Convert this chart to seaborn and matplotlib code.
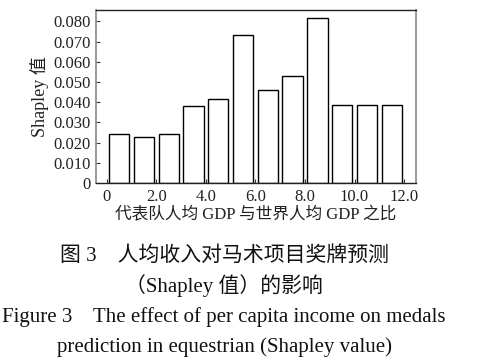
import numpy as np
import pandas as pd
import seaborn as sns
import matplotlib.pyplot as plt

# Data
gdp_ratio = [0.5, 1.5, 2.5, 3.5, 4.5, 5.5, 6.5, 7.5, 8.5, 9.5, 10.5, 11.5]
shapley = [0.0241, 0.0229, 0.0244, 0.0381, 0.0417, 0.0731,
           0.0459, 0.0528, 0.0815, 0.0388, 0.0388, 0.0386]
xtick_vals = [0, 2, 4, 6, 8, 10, 12]
xtick_labels = ['0', '2.0', '4.0', '6.0', '8.0', '10.0', '12.0']
ytick_vals = [0, 0.01, 0.02, 0.03, 0.04, 0.05, 0.06, 0.07, 0.08]
ytick_labels = ['0', '0.010', '0.020', '0.030', '0.040', '0.050', '0.060', '0.070', '0.080']

df = pd.DataFrame({'ratio': gdp_ratio, 'shapley': shapley})

sns.set_theme(style='ticks')
plt.rcParams['font.family'] = ['Liberation Serif', 'Noto Sans CJK SC', 'DejaVu Sans']
plt.rcParams['xtick.direction'] = 'in'
plt.rcParams['ytick.direction'] = 'in'

fig = plt.figure(figsize=(4.82, 3.63), dpi=100)
ax = fig.add_axes([0.199, 0.496, 0.664, 0.476])

sns.barplot(data=df, x='ratio', y='shapley', native_scale=True, width=0.82,
            color='white', edgecolor='black', linewidth=1.0, ax=ax)

ax.set_xlim(-0.44, 12.48)
ax.set_ylim(0, 0.0856)
ax.set_xticks(xtick_vals)
ax.set_xticklabels(xtick_labels)
ax.set_yticks(ytick_vals)
ax.set_yticklabels(ytick_labels)
ax.tick_params(axis='both', labelsize=12, length=3, width=0.8, colors='#333333',
               labelcolor='#222222', pad=4)
for side in ['left', 'right']:
    ax.spines[side].set_color('#888888')
    ax.spines[side].set_linewidth(1.2)
for side in ['top', 'bottom']:
    ax.spines[side].set_color('#222222')
    ax.spines[side].set_linewidth(1.0)

ax.set_xlabel('代表队人均 GDP 与世界人均 GDP 之比', fontsize=12, color='#222222', labelpad=2)
ax.set_ylabel('Shapley 值', fontsize=13, color='#222222', labelpad=3)

# Caption
cx = 0.465
fig.text(cx, 0.296, '图 3    人均收入对马术项目奖牌预测', ha='center', va='center',
         fontsize=15, color='#111111')
fig.text(cx, 0.214, '（Shapley 值）的影响', ha='center', va='center',
         fontsize=15, color='#111111')
fig.text(cx, 0.127, 'Figure 3    The effect of per capita income on medals', ha='center',
         va='center', fontsize=15, color='#111111')
fig.text(cx, 0.044, 'prediction in equestrian (Shapley value)', ha='center',
         va='center', fontsize=15, color='#111111')

fig.savefig('out.png', dpi=100)
